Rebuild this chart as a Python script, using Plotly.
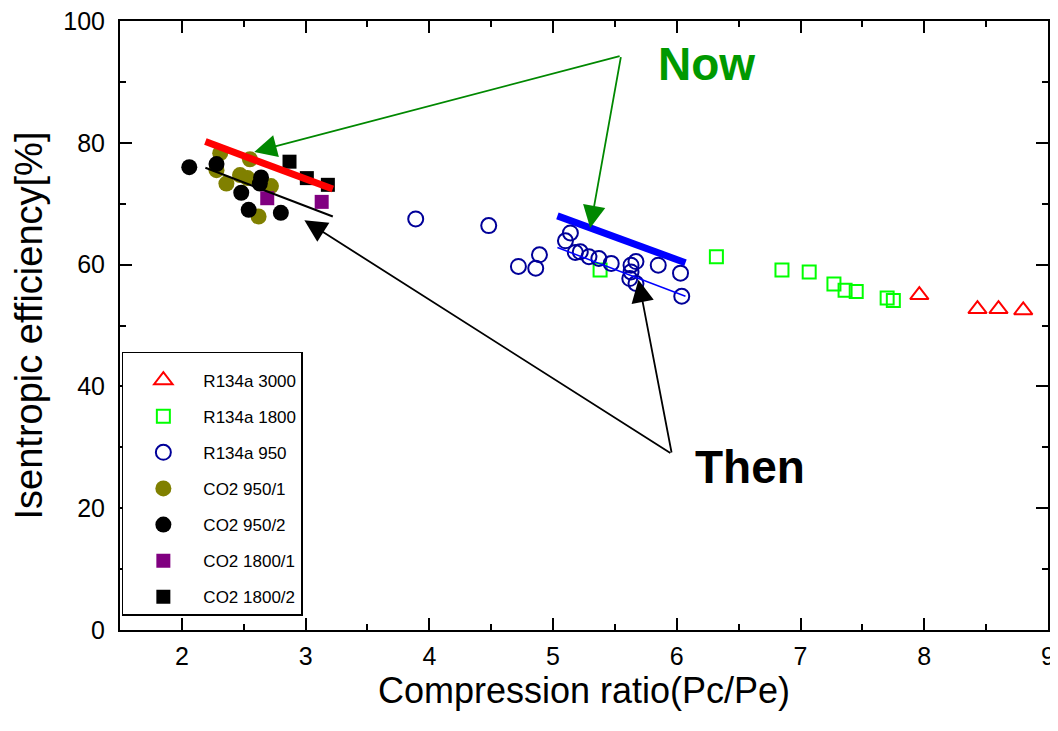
import plotly.graph_objects as go

# ---- data ----
r3000_x = [7.96, 8.43, 8.60, 8.80]
r3000_y = [55.0, 52.7, 52.7, 52.5]

r1800_x = [5.38, 6.32, 6.85, 7.07, 7.27, 7.36, 7.45, 7.70, 7.75]
r1800_y = [59.1, 61.3, 59.1, 58.8, 56.8, 55.8, 55.6, 54.5, 54.1]

r950_x = [3.89, 4.48, 4.72, 4.86, 4.89, 5.14, 5.10, 5.18, 5.22, 5.29, 5.37, 5.47,
          5.63, 5.67, 5.63, 5.62, 5.67, 5.85, 6.03, 6.04]
r950_y = [67.5, 66.4, 59.7, 59.4, 61.6, 65.2, 63.9, 62.0, 62.1, 61.3, 61.0, 60.2,
          59.9, 60.5, 58.8, 57.7, 56.9, 59.9, 58.6, 54.8]

co2_950_1_x = [2.31, 2.28, 2.36, 2.47, 2.53, 2.55, 2.72, 2.62]
co2_950_1_y = [78.3, 75.5, 73.3, 74.7, 74.2, 77.3, 72.9, 67.9]

co2_950_2_x = [2.06, 2.28, 2.64, 2.63, 2.48, 2.54, 2.80]
co2_950_2_y = [76.0, 76.5, 74.3, 73.3, 71.8, 69.0, 68.5]

co2_1800_1_x = [2.69, 3.13]
co2_1800_1_y = [70.9, 70.3]

co2_1800_2_x = [2.87, 3.01, 3.18]
co2_1800_2_y = [76.9, 74.2, 73.1]

# trend lines ("now" and "then")
co2_now_x = [2.19, 3.22]
co2_now_y = [80.2, 72.4]
co2_then_x = [2.19, 3.22]
co2_then_y = [75.9, 67.9]
r134_now_x = [5.035, 6.07]
r134_now_y = [68.0, 60.3]
r134_then_x = [5.035, 6.07]
r134_then_y = [62.8, 54.8]

FONT = "Liberation Sans, Arial, sans-serif"

fig = go.Figure()

def add_pts(x, y, name, symbol, color, size, filled, group):
    if filled:
        marker = dict(symbol=symbol, size=size, color=color, line=dict(width=0))
    else:
        marker = dict(symbol=symbol, size=size, color=color,
                      line=dict(color=color, width=2))
    fig.add_trace(go.Scatter(x=x, y=y, mode="markers", name=name, marker=marker,
                             legendgroup=group))

add_pts(r3000_x, r3000_y, "R134a 3000", "triangle-up-open", "#FF0000", 16, False, "g1")
add_pts(r1800_x, r1800_y, "R134a 1800", "square-open", "#00FF00", 13, False, "g2")
add_pts(r950_x, r950_y, "R134a 950", "circle-open", "#000099", 15, False, "g3")
add_pts(co2_950_1_x, co2_950_1_y, "CO2 950/1", "circle", "#808000", 16, True, "g4")
add_pts(co2_950_2_x, co2_950_2_y, "CO2 950/2", "circle", "#000000", 16, True, "g5")
add_pts(co2_1800_1_x, co2_1800_1_y, "CO2 1800/1", "square", "#800080", 14, True, "g6")
add_pts(co2_1800_2_x, co2_1800_2_y, "CO2 1800/2", "square", "#000000", 14, True, "g7")

for lx, ly, c, w in [(co2_now_x, co2_now_y, "#FF0000", 7),
                     (co2_then_x, co2_then_y, "#000000", 2),
                     (r134_now_x, r134_now_y, "#0000FF", 7),
                     (r134_then_x, r134_then_y, "#0000FF", 1.5)]:
    fig.add_trace(go.Scatter(x=lx, y=ly, mode="lines", line=dict(color=c, width=w),
                             showlegend=False, hoverinfo="skip"))

# arrows
def arrow(tail, tip, color):
    fig.add_annotation(x=tip[0], y=tip[1], ax=tail[0], ay=tail[1],
                       xref="x", yref="y", axref="x", ayref="y",
                       showarrow=True, arrowhead=2, arrowsize=2.5, arrowwidth=1.8,
                       arrowcolor=color, text="")

arrow((5.55, 94.3), (2.585, 78.5), "#008800")
arrow((5.55, 94.3), (5.30, 66.0), "#008800")
arrow((5.96, 28.9), (2.99, 67.3), "#000000")
arrow((5.96, 28.9), (5.69, 57.5), "#000000")

fig.add_annotation(x=6.24, y=92.9, xref="x", yref="y", text="<b>Now</b>", showarrow=False,
                   font=dict(family=FONT, size=46, color="#009900"))
fig.add_annotation(x=6.59, y=26.8, xref="x", yref="y", text="<b>Then</b>", showarrow=False,
                   font=dict(family=FONT, size=46, color="#000000"))

axis_common = dict(showline=True, linecolor="black", linewidth=2, mirror="allticks",
                   ticks="inside", ticklen=12, tickwidth=1.5, tickcolor="black",
                   showgrid=False, zeroline=False,
                   ticklabeloverflow="allow",
                   tickfont=dict(family=FONT, size=25, color="black"))

fig.update_xaxes(range=[1.5, 9], dtick=1, tick0=0, automargin="bottom",
                 minor=dict(dtick=0.5, ticks="inside", ticklen=6, tickwidth=1.5, tickcolor="black"),
                 title=dict(text="Compression ratio(Pc/Pe)", font=dict(family=FONT, size=36, color="black"),
                            standoff=0),
                 ticklabelstandoff=3, **axis_common)
fig.update_yaxes(range=[0, 100], dtick=20, tick0=0, automargin="left",
                 minor=dict(dtick=10, ticks="inside", ticklen=6, tickwidth=1.5, tickcolor="black"),
                 title=dict(text="Isentropic efficiency[%]", font=dict(family=FONT, size=38, color="black"),
                            standoff=18),
                 ticklabelstandoff=8, **axis_common)

# page body has an 8px margin, so the figure is sized/offset to compensate
fig.update_layout(
    width=1050, height=715,
    margin=dict(l=112, r=10, t=13, b=93),
    plot_bgcolor="white", paper_bgcolor="white",
    legend=dict(x=0.002, y=0.4565, xanchor="left", yanchor="top",
                bordercolor="black", borderwidth=1.5, bgcolor="white",
                font=dict(family=FONT, size=17, color="black"),
                title=dict(text=" ", font=dict(size=7)),
                tracegroupgap=11, itemwidth=70),
)

fig.write_html("out.html")
